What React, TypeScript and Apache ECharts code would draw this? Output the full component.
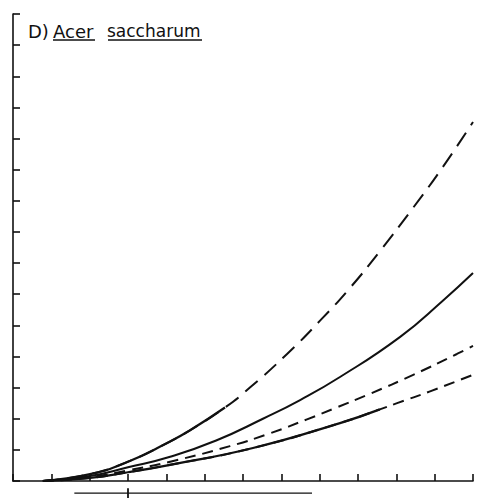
import React, { useEffect, useRef } from "react";
import * as echarts from "echarts";

// Tick counts (unlabelled axes)
const xTicks = [0, 1, 2, 3, 4, 5, 6, 7, 8, 9, 10, 11, 12];
const yTicks = [0, 1, 2, 3, 4, 5, 6, 7, 8, 9, 10, 11, 12, 13, 14, 15];

// Curve A: full curve (long-dashed); solid over the measured part
const aX = [0.78, 2.01, 3.0, 4.02, 4.62, 5.53, 6.18, 7.15, 8.01, 8.79, 9.57, 10.44, 11.22, 12.0];
const aY = [0, 0.22, 0.62, 1.22, 1.63, 2.36, 3.0, 4.08, 5.15, 6.2, 7.38, 8.78, 10.1, 11.53];
const aSolidCount = 6;

// Curve B: solid
const bX = [0.78, 2.01, 3.0, 4.1, 5.3, 6.52, 7.49, 8.53, 10.1, 11.22, 12.0];
const bY = [0, 0.16, 0.44, 0.78, 1.3, 2.0, 2.6, 3.34, 4.63, 5.8, 6.68];

// Curve C: short-dashed
const cX = [0.78, 2.01, 3.0, 4.1, 5.66, 6.7, 7.67, 8.4, 9.31, 10.44, 11.58, 12.0];
const cY = [0, 0.13, 0.34, 0.62, 1.12, 1.53, 1.98, 2.34, 2.8, 3.41, 4.08, 4.34];

// Curve D: full curve (short-dashed); solid over the measured part
const dX = [0.78, 2.01, 3.0, 4.1, 6.26, 8.53, 9.57, 10.02, 10.88, 12.0];
const dY = [0, 0.1, 0.28, 0.52, 1.06, 1.86, 2.3, 2.5, 2.88, 3.41];
const dSolidCount = 7;

// Range bar below the axis
const rangeX = [1.6, 7.8];
const rangeY = -0.39;
const rangeMid = 3.0;
const rangeHalf = 0.16;

const zip = (xs: number[], ys: number[]) => xs.map((x, i) => [x, ys[i]]);

const INK = "#111";

export default function App() {
  const ref = useRef<HTMLDivElement>(null);
  useEffect(() => {
    if (!ref.current) return;
    const chart = echarts.init(ref.current, null, { renderer: "svg" });
    const lineBase = (data: number[][], type: any, width = 2) => ({
      type: "line",
      data,
      smooth: 0.5,
      showSymbol: false,
      symbol: "none",
      clip: false,
      silent: true,
      lineStyle: { color: INK, width, type, cap: "butt" },
    });
    const aAll = zip(aX, aY);
    const dAll = zip(dX, dY);
    chart.setOption({
      animation: false,
      backgroundColor: "#fff",
      grid: { left: 13, right: 14, top: 14, bottom: 21, containLabel: false },
      xAxis: {
        type: "value",
        min: xTicks[0],
        max: xTicks[xTicks.length - 1],
        interval: 1,
        axisLine: { show: true, onZero: false, lineStyle: { color: INK, width: 1.6 } },
        axisTick: { show: true, inside: true, length: 7, lineStyle: { color: INK, width: 1.6 } },
        axisLabel: { show: false },
        splitLine: { show: false },
      },
      yAxis: {
        type: "value",
        min: yTicks[0],
        max: yTicks[yTicks.length - 1],
        interval: 1,
        axisLine: { show: true, onZero: false, lineStyle: { color: INK, width: 1.6 } },
        axisTick: { show: true, inside: true, length: 7, lineStyle: { color: INK, width: 1.6 } },
        axisLabel: { show: false },
        splitLine: { show: false },
      },
      series: [
        lineBase(aAll, [16, 9]),
        lineBase(aAll.slice(0, aSolidCount), "solid", 2.2),
        lineBase(zip(bX, bY), "solid"),
        lineBase(zip(cX, cY), [11, 7]),
        lineBase(dAll, [11, 7]),
        lineBase(dAll.slice(0, dSolidCount), "solid", 2.2),
        { ...lineBase([[rangeX[0], rangeY], [rangeX[1], rangeY]], "solid", 1.2), smooth: false },
        { ...lineBase([[rangeMid, rangeY - rangeHalf], [rangeMid, rangeY + rangeHalf]], "solid", 1.8), smooth: false },
      ],
      graphic: [
        { type: "text", left: 28, top: 22, style: { text: "D)", font: "18px 'DejaVu Sans'", fill: INK } },
        { type: "text", left: 53, top: 22, style: { text: "Acer", font: "18px 'DejaVu Sans'", fill: INK } },
        { type: "text", left: 107, top: 22, style: { text: "saccharum", font: "17px 'DejaVu Sans'", fill: INK } },
        { type: "line", shape: { x1: 53, y1: 40, x2: 95, y2: 40 }, style: { stroke: INK, lineWidth: 1.6 } },
        { type: "line", shape: { x1: 108, y1: 40, x2: 202, y2: 40 }, style: { stroke: INK, lineWidth: 1.6 } },
      ],
    });
    return () => chart.dispose();
  }, []);
  return (
    <div
      ref={ref}
      style={{ position: "fixed", left: 0, top: 0, width: 487, height: 502, background: "#fff" }}
    />
  );
}
